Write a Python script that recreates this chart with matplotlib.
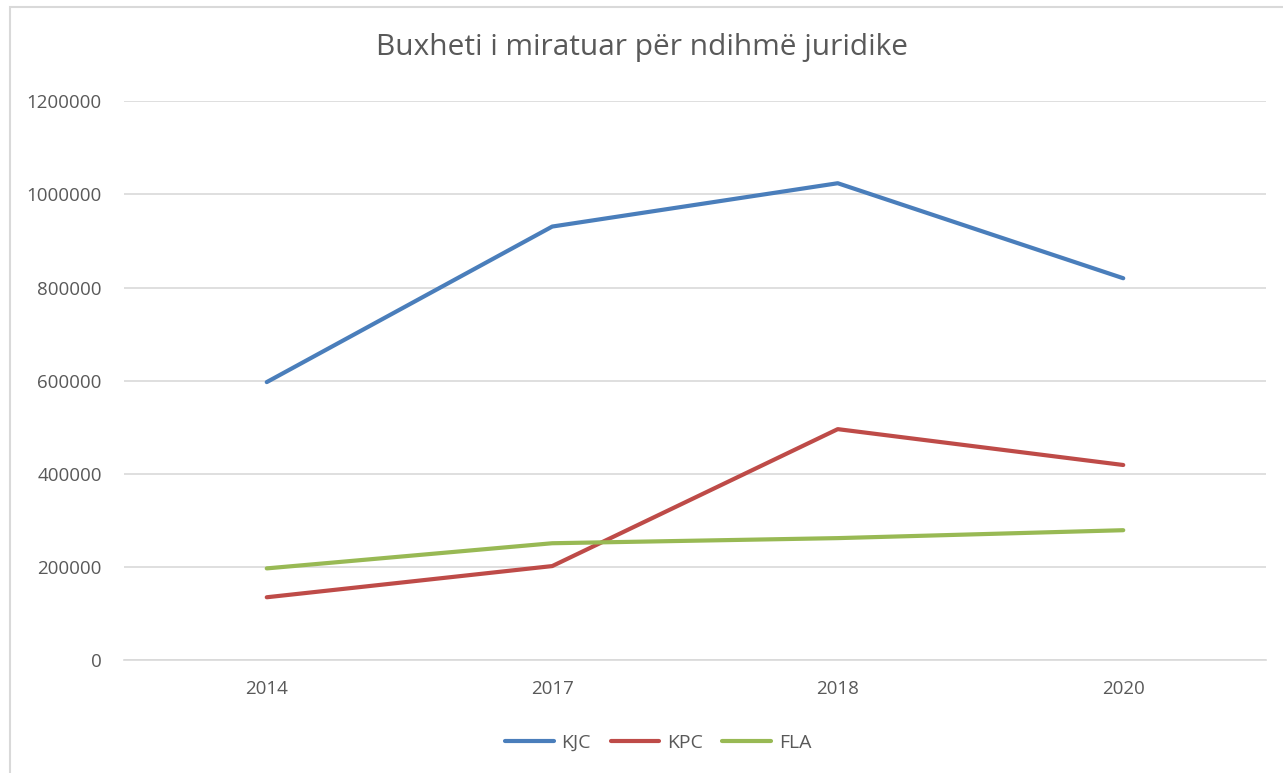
import matplotlib.pyplot as plt
from matplotlib.patches import Rectangle

years = ["2014", "2017", "2018", "2020"]
kjc = [597000, 931000, 1024000, 820000]
kpc = [135000, 202000, 496000, 419000]
fla = [197000, 251000, 262000, 279000]
y_ticks = [0, 200000, 400000, 600000, 800000, 1000000, 1200000]

plt.rcParams['font.family'] = ['Open Sans', 'DejaVu Sans']

fig = plt.figure(figsize=(12.83, 7.73), dpi=100)
ax = fig.add_axes([124 / 1283, 0.146, 1142 / 1283, 0.723])

x = range(len(years))
ax.plot(x, kjc, color='#4A7EBB', lw=3, label='KJC', solid_capstyle='round')
ax.plot(x, kpc, color='#BE4B48', lw=3, label='KPC', solid_capstyle='round')
ax.plot(x, fla, color='#98B954', lw=3, label='FLA', solid_capstyle='round')

ax.set_xlim(-0.5, len(years) - 0.5)
ax.set_ylim(0, 1200000)
ax.set_xticks(list(x))
ax.set_xticklabels(years)
ax.set_yticks(y_ticks)
ax.set_yticklabels([str(v) for v in y_ticks])
ax.grid(axis='y', color='#D9D9D9', lw=1.2)
ax.set_axisbelow(True)
for s in ['top', 'right', 'left']:
    ax.spines[s].set_visible(False)
ax.spines['bottom'].set_color('#D9D9D9')
ax.spines['bottom'].set_linewidth(1.2)
ax.tick_params(axis='both', length=0, colors='#595959', labelsize=13.5)
ax.tick_params(axis='y', pad=16)
ax.tick_params(axis='x', pad=14)

fig.text(0.5, 0.939, "Buxheti i miratuar për ndihmë juridike", ha='center', va='center',
         fontsize=21.5, color='#595959')

fig.legend(loc='center', bbox_to_anchor=(0.513, 0.039), ncol=3, frameon=False,
           fontsize=14, labelcolor='#595959', handlelength=2.5, columnspacing=1.0,
           handletextpad=0.4)

# light chart-area border (left and top visible, right/bottom run off the image)
fig.patches.append(Rectangle((10 / 1283, -0.05), 1.1, 0.05 + 1 - 7 / 773,
                             transform=fig.transFigure, fill=False,
                             edgecolor='#D9D9D9', lw=1.5))

fig.savefig('out.png', dpi=100, facecolor='white')
